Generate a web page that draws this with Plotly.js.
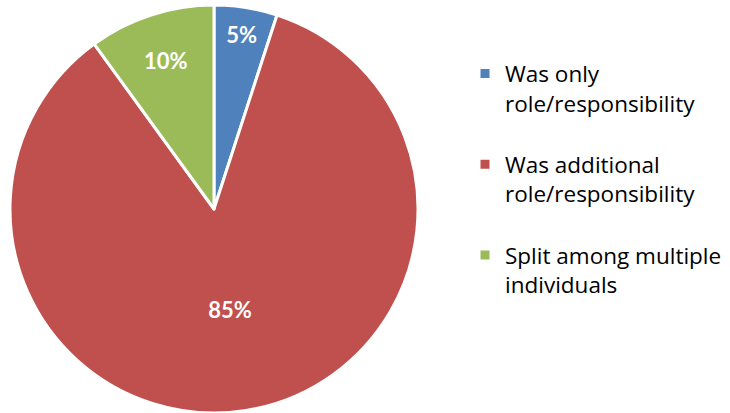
<!DOCTYPE html>
<html>
<head>
<meta charset="utf-8">
<script src="https://cdn.plot.ly/plotly-3.0.1.min.js"></script>
<style>html,body{margin:0;padding:0;background:#fff;}#chart{width:730px;height:413px;}</style>
</head>
<body>
<div id="chart"></div>
<script>
const categories = [
  "Was only<br>role/responsibility<br> ",
  "Was additional<br>role/responsibility<br> ",
  "Split among multiple<br>individuals<br> "
];
const values = [5, 85, 10];
const colors = ["#4F81BD", "#C0504D", "#9BBB59"];

const FONT = "Lato, 'Open Sans', sans-serif";
const LEGEND_FONT = "'Open Sans', Lato, sans-serif";

const trace = {
  type: "pie",
  labels: categories,
  values: values,
  sort: false,
  direction: "clockwise",
  rotation: 0,
  marker: {colors: colors, line: {color: "#ffffff", width: 3}},
  textinfo: "percent",
  texttemplate: "%{percent:.0%}",
  textposition: "inside",
  insidetextorientation: "horizontal",
  textfont: {family: FONT, size: 22, color: "#ffffff", weight: "bold"},
  hoverinfo: "label+percent",
  domain: {x: [10/730, 418/730], y: [0, 408/413]}
};

const layout = {
  width: 730,
  height: 413,
  margin: {l: 0, r: 0, t: 0, b: 0},
  paper_bgcolor: "#ffffff",
  showlegend: true,
  legend: {
    x: 0.637, y: 0.873, xanchor: "left", yanchor: "top",
    valign: "top",
    font: {family: LEGEND_FONT, size: 22.5, color: "#000000"},
    itemclick: false
  }
};

Plotly.newPlot("chart", [trace], layout, {displayModeBar: false, staticPlot: true});
</script>
</body>
</html>
